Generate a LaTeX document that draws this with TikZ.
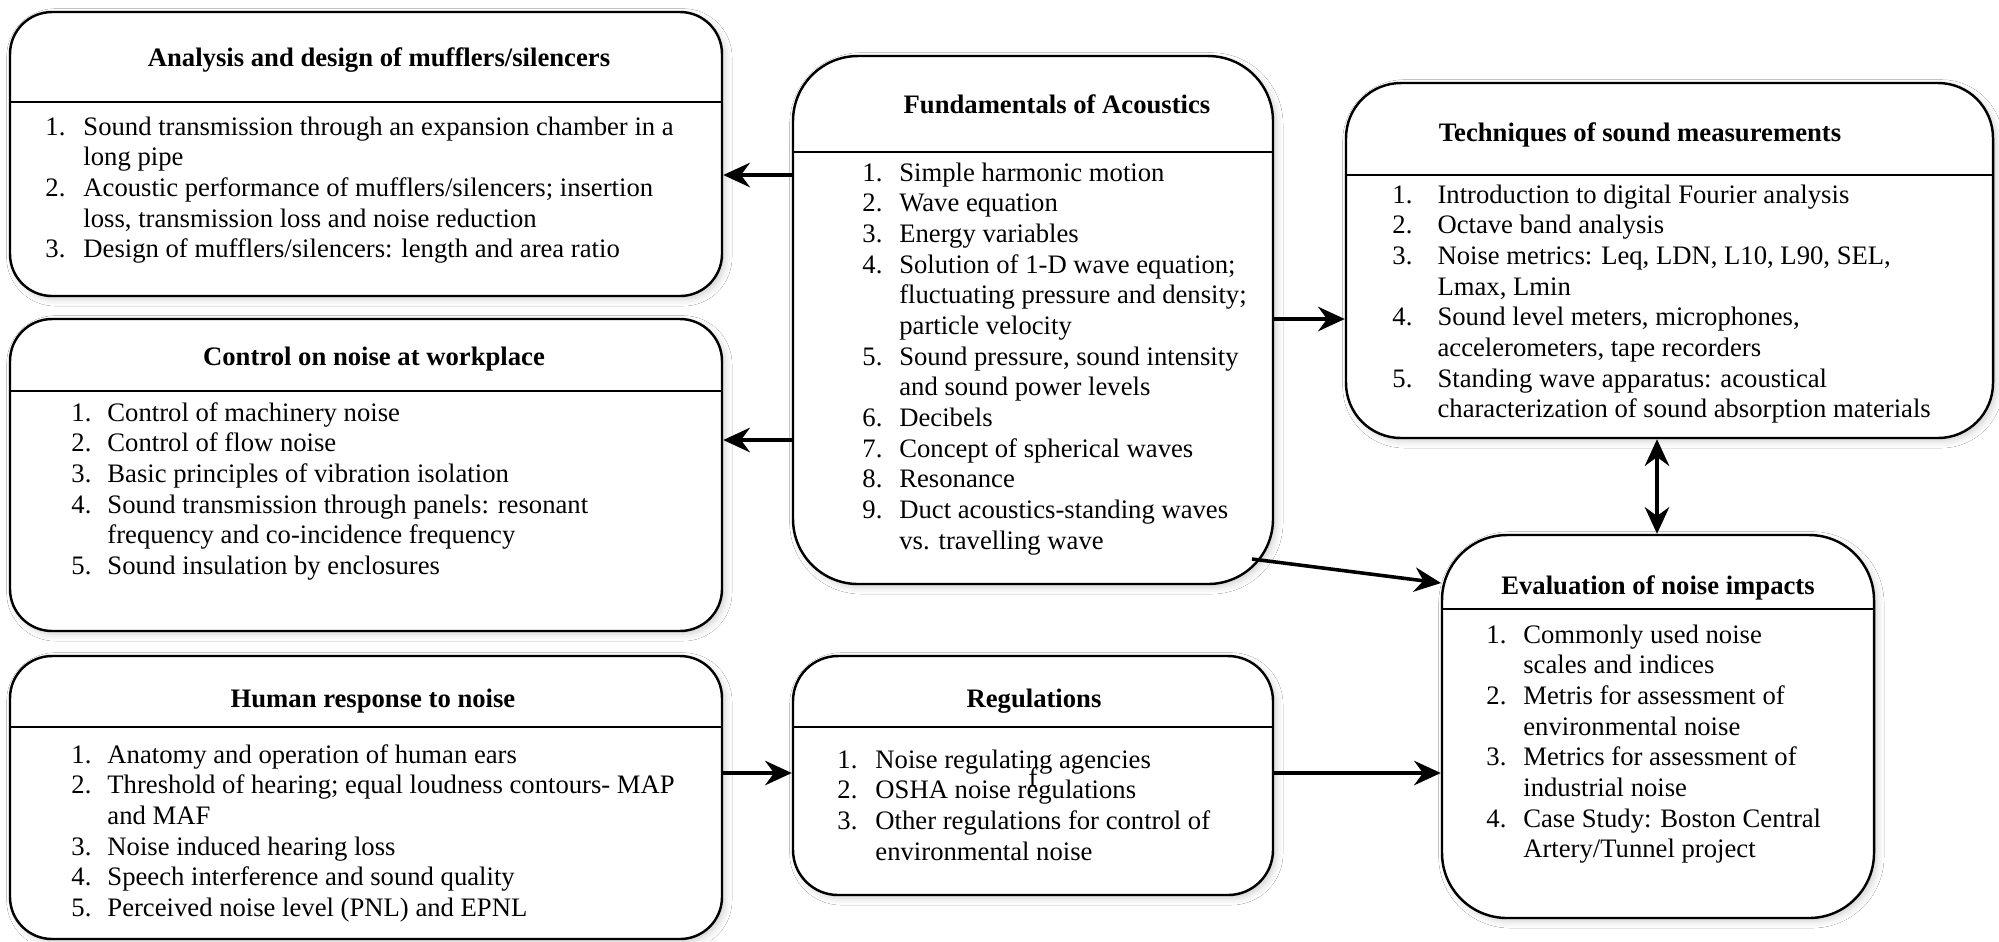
\documentclass[tikz,border=0pt]{standalone}
\usepackage{fontspec}
\setmainfont{Liberation Serif}
\usetikzlibrary{arrows.meta,shadows.blur}
\newcommand\itemlist[2]{\begin{tabular}[t]{@{}p{#1}@{}l@{}}#2\end{tabular}}
\newcommand\mybox[6]{%
  \node[box, rounded corners=#6*0.45pt, minimum width={(#4-#2)*0.45pt}, minimum height={(#5-#3)*0.45pt}] (#1) at ({(#2+#4)/2},{(#3+#5)/2}) {};}
\begin{document}
\begin{tikzpicture}[x=0.45pt,y=-0.45pt,
  box/.style={draw, line width=1.1pt, fill=white, inner sep=0pt,
    blur shadow={shadow xshift=1.5pt,shadow yshift=-1.5pt,shadow blur radius=3pt,shadow opacity=18}},
  sepline/.style={line width=1.1pt},
  ttl/.style={font={\fontsize{12}{13.8}\selectfont\bfseries}, inner sep=0pt, anchor=base},
  lst/.style={font={\fontsize{12}{13.8}\selectfont}, inner sep=0pt, anchor=base west, align=left},
  tip/.style={},
  arr/.style={line width=1.6pt, -{Stealth[length=12pt,width=11pt,inset=4pt]}},
  darr/.style={line width=1.6pt, {Stealth[length=12pt,width=11pt,inset=4pt]}-{Stealth[length=12pt,width=11pt,inset=4pt]}},
]
\useasboundingbox (0,0) rectangle (1999,941);
\fill[white] (0,0) rectangle (1999,941);

% boxes
\mybox{ana}{10}{12}{722}{296}{42}
\mybox{ctl}{10}{319}{722}{631}{42}
\mybox{hum}{10}{656}{722}{939}{42}
\mybox{fund}{793}{56}{1273}{584}{65}
\mybox{tech}{1346}{83}{1993}{438}{55}
\mybox{reg}{793}{656}{1273}{895}{45}
\mybox{eval}{1442}{535}{1874}{918}{65}

% separators
\coordinate (sa) at (0,102);
\coordinate (sc) at (0,391);
\coordinate (sh) at (0,727);
\coordinate (sf) at (0,152);
\coordinate (st) at (0,175);
\coordinate (sr) at (0,727);
\coordinate (se) at (0,609);
\draw[sepline] (ana.west |- sa) -- (ana.east |- sa);
\draw[sepline] (ctl.west |- sc) -- (ctl.east |- sc);
\draw[sepline] (hum.west |- sh) -- (hum.east |- sh);
\draw[sepline] (fund.west |- sf) -- (fund.east |- sf);
\draw[sepline] (tech.west |- st) -- (tech.east |- st);
\draw[sepline] (reg.west |- sr) -- (reg.east |- sr);
\draw[sepline] (eval.west |- se) -- (eval.east |- se);

% titles
\node[ttl] (anat) at (379,66) {Analysis and design of mufflers/silencers};
\node[ttl] (ctlt) at (374,365) {Control on noise at workplace};
\node[ttl] (humt) at (373,707) {Human response to noise};
\node[ttl] (fundt) at (1057,113) {Fundamentals of Acoustics};
\node[ttl] (techt) at (1640,141) {Techniques of sound measurements};
\node[ttl] (regt) at (1034,707) {Regulations};
\node[ttl] (evalt) at (1658,594) {Evaluation of noise impacts};

% lists
\node[lst] (anal) at (45,135) {\itemlist{17.1pt}{%
1. & Sound transmission through an expansion chamber in a\\
   & long pipe\\
2. & Acoustic performance of mufflers/silencers; insertion\\
   & loss, transmission loss and noise reduction\\
3. & Design of mufflers/silencers: length and area ratio}};

\node[lst] (ctll) at (71,421) {\itemlist{16.2pt}{%
1. & Control of machinery noise\\
2. & Control of flow noise\\
3. & Basic principles of vibration isolation\\
4. & Sound transmission through panels: resonant\\
   & frequency and co-incidence frequency\\
5. & Sound insulation by enclosures}};

\node[lst] (huml) at (71,763) {\itemlist{16.2pt}{%
1. & Anatomy and operation of human ears\\
2. & Threshold of hearing; equal loudness contours- MAP\\
   & and MAF\\
3. & Noise induced hearing loss\\
4. & Speech interference and sound quality\\
5. & Perceived noise level (PNL) and EPNL}};

\node[lst] (fundl) at (862,181) {\itemlist{16.6pt}{%
1. & Simple harmonic motion\\
2. & Wave equation\\
3. & Energy variables\\
4. & Solution of 1-D wave equation;\\
   & fluctuating pressure and density;\\
   & particle velocity\\
5. & Sound pressure, sound intensity\\
   & and sound power levels\\
6. & Decibels\\
7. & Concept of spherical waves\\
8. & Resonance\\
9. & Duct acoustics-standing waves\\
   & vs. travelling wave}};

\node[lst] (techl) at (1392,203) {\itemlist{20.3pt}{%
1. & Introduction to digital Fourier analysis\\
2. & Octave band analysis\\
3. & Noise metrics: Leq, LDN, L10, L90, SEL,\\
   & Lmax, Lmin\\
4. & Sound level meters, microphones,\\
   & accelerometers, tape recorders\\
5. & Standing wave apparatus: acoustical\\
   & characterization of sound absorption materials}};

\node[lst] (regl) at (837,768) {\itemlist{17.1pt}{%
1. & Noise regulating agencies\\
2. & OSHA noise regulations\\
3. & Other regulations for control of\\
   & environmental noise}};
\node[font={\fontsize{12}{13.8}\selectfont}, inner sep=0pt, anchor=base] (stray) at (1033,786) {f};

\node[lst] (evall) at (1486,643) {\itemlist{16.6pt}{%
1. & Commonly used noise\\
   & scales and indices\\
2. & Metris for assessment of\\
   & environmental noise\\
3. & Metrics for assessment of\\
   & industrial noise\\
4. & Case Study: Boston Central\\
   & Artery/Tunnel project}};

% connectors
\coordinate (ya) at (0,175);
\coordinate (yc) at (0,440);
\coordinate (yt) at (0,319);
\coordinate (yr) at (0,773);
\coordinate (xd) at (1657,0);
\coordinate (fe) at (1252,559);
\coordinate (ee) at (1441,583);
\draw[arr] (fund.west |- ya) -- (ana.east |- ya);
\draw[arr] (fund.west |- yc) -- (ctl.east |- yc);
\draw[arr] (fund.east |- yt) -- (tech.west |- yt);
\draw[arr] (fe) -- (ee);
\draw[darr] (tech.south -| xd) -- (eval.north -| xd);
\draw[arr] (hum.east |- yr) -- (reg.west |- yr);
\draw[arr] (reg.east |- yr) -- (eval.west |- yr);
\end{tikzpicture}
\end{document}
